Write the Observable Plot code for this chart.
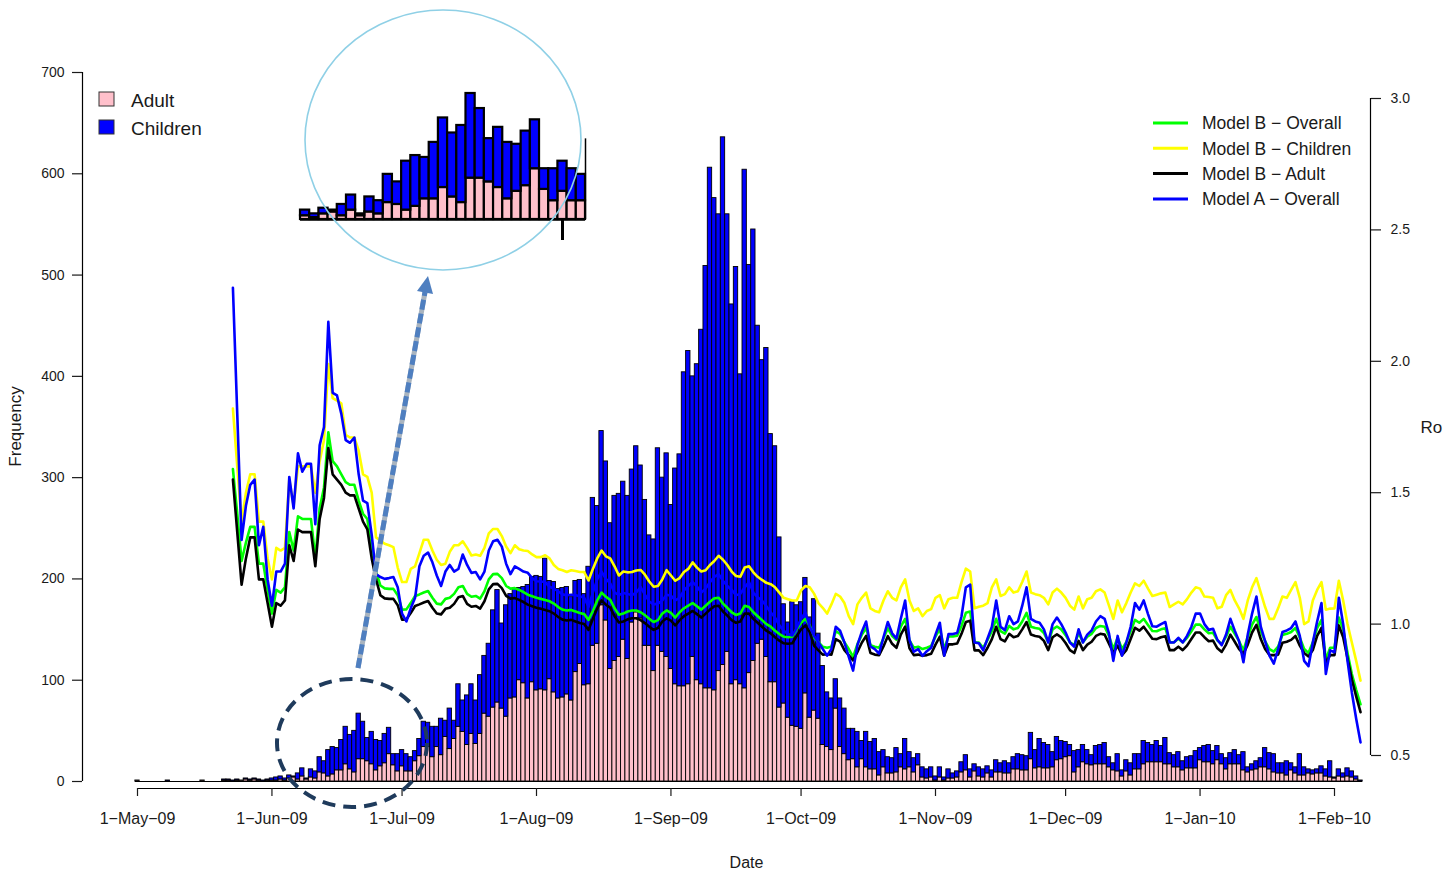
<!DOCTYPE html>
<html><head><meta charset="utf-8">
<script src="https://cdn.jsdelivr.net/npm/d3@7"></script>
<script src="https://cdn.jsdelivr.net/npm/@observablehq/plot@0.6"></script>
<style>
html,body{margin:0;padding:0;background:#fff;overflow:hidden;}
#wrap{position:relative;width:1455px;height:871px;overflow:hidden;background:#fff;}
#wrap > svg, #wrap > div{position:absolute;}
</style></head><body><div id="wrap"></div>
<script>
// ---------------- DATA (day index 0 = 1-May-2009) ----------------
const adult = [
1,0,0,0,0,0,0,0,0,0,
0,0,0,0,0,1,0,0,0,0,
1,1,0,1,1,2,1,2,1,0,
1,1,1,2,1,3,4,2,5,2,
4,3,9,8,5,7,11,11,17,12,
9,22,22,20,17,11,15,18,27,16,
10,15,10,10,20,25,34,34,24,34,
26,44,32,42,54,49,36,47,37,47,
67,64,73,78,72,64,82,83,100,97,
82,98,90,91,90,101,88,82,83,86,
80,108,116,95,96,134,136,174,159,111,
119,123,140,121,157,167,161,134,134,109,
134,128,123,111,96,94,94,96,123,100,
96,92,92,90,109,115,128,96,100,96,
92,107,119,136,140,123,98,98,73,77,
63,55,54,52,87,63,70,62,36,34,
31,72,34,27,21,22,14,22,14,12,
12,6,14,8,8,9,14,12,14,9,
16,4,3,4,1,4,1,3,3,4,
9,11,4,10,5,4,8,4,9,9,
8,8,12,12,11,11,22,13,14,13,
13,14,21,22,24,25,9,14,19,17,
16,17,17,17,14,11,10,5,10,6,
12,12,17,19,19,19,19,17,17,14,
14,11,13,13,13,21,19,19,17,21,
17,12,17,17,17,11,9,11,12,14,
14,12,9,8,8,6,11,8,6,6,
8,7,8,8,5,4,3,5,4,5,
4,2,0];
const children = [
0,0,0,0,0,0,0,1,0,0,
0,0,0,0,0,0,0,0,0,0,
1,1,1,1,0,1,1,1,1,1,
1,2,3,3,2,3,1,6,8,1,
8,7,15,12,26,27,22,30,37,34,
41,45,37,23,32,30,25,29,26,11,
17,16,17,14,10,17,25,24,30,20,
36,16,40,18,42,31,49,49,43,58,
57,72,96,111,84,110,103,107,91,95,
112,104,113,111,130,97,109,108,108,106,
102,90,83,90,116,146,136,172,157,144,
163,161,156,161,151,164,151,144,109,130,
195,172,201,162,213,229,310,329,277,312,
350,417,514,486,451,521,432,375,408,306,
512,403,426,314,276,305,245,233,168,98,
94,122,120,125,114,99,110,84,78,54,
51,29,48,45,31,30,35,18,35,27,
30,23,17,16,15,24,13,30,15,14,
11,10,9,10,4,10,3,9,5,6,
10,15,8,7,9,8,7,7,12,9,
12,10,12,15,15,14,26,18,28,25,
23,15,23,18,15,11,21,17,17,14,
10,18,19,21,10,7,17,6,11,12,
15,15,23,19,17,21,16,26,11,12,
15,9,11,12,17,12,16,17,13,14,
10,11,11,14,9,18,5,6,8,9,
19,16,18,10,10,14,7,6,21,8,
4,4,4,7,7,16,1,7,4,8,
6,3,1];

const lineFirstDay = 22;
const modelBOverall = [
1.59,1.42,1.24,1.31,1.37,1.37,1.23,1.23,1.13,1.04,
1.13,1.12,1.14,1.35,1.28,1.41,1.40,1.40,1.40,1.25,
1.44,1.52,1.73,1.62,1.60,1.57,1.54,1.53,1.53,1.47,
1.42,1.40,1.28,1.20,1.147,1.136,1.134,1.134,1.11,1.055,
1.056,1.08,1.107,1.113,1.12,1.126,1.10,1.078,1.075,1.096,
1.10,1.115,1.14,1.145,1.115,1.104,1.107,1.097,1.125,1.17,
1.19,1.191,1.175,1.145,1.135,1.137,1.13,1.122,1.112,1.106,
1.10,1.096,1.092,1.087,1.078,1.065,1.055,1.052,1.054,1.048,
1.042,1.038,1.016,1.05,1.09,1.12,1.104,1.092,1.06,1.036,
1.04,1.048,1.052,1.052,1.045,1.034,1.02,1.008,1.015,1.04,
1.052,1.043,1.025,1.045,1.06,1.07,1.08,1.068,1.055,1.07,
1.085,1.098,1.10,1.078,1.062,1.045,1.035,1.04,1.07,1.065,
1.045,1.03,1.015,1.00,0.99,0.975,0.962,0.952,0.95,0.952,
0.98,1.005,1.02,0.995,0.948,0.931,0.914,0.91,0.914,0.973,
0.963,0.931,0.905,0.875,0.924,0.959,0.985,0.92,0.914,0.91,
0.945,0.984,0.955,0.94,0.99,1.02,0.938,0.91,0.914,0.905,
0.91,0.917,0.952,0.982,0.905,0.953,0.953,0.956,0.993,1.043,
1.048,0.931,0.93,0.91,0.94,0.973,1.02,0.973,0.964,0.993,
0.98,0.985,1.01,1.043,0.99,0.985,0.982,0.966,0.931,0.98,
0.991,0.98,0.958,0.931,0.92,0.966,0.931,0.952,0.963,0.985,
0.993,0.99,0.955,0.905,0.948,0.905,0.931,0.973,1.016,1.005,
1.02,0.997,0.974,0.973,0.98,0.984,0.931,0.931,0.944,0.931,
0.948,0.973,0.998,0.998,0.98,0.965,0.967,0.938,0.924,0.952,
0.99,0.963,0.935,0.90,0.952,0.998,1.027,0.973,0.935,0.905,
0.895,0.914,0.959,0.963,0.97,0.985,0.948,0.905,0.89,0.931,
0.985,1.016,0.865,0.91,0.91,1.025,0.98,0.89,0.81,0.75,
0.695];
const modelBChildren = [
1.82,1.60,1.39,1.50,1.57,1.57,1.39,1.39,1.25,1.17,
1.29,1.28,1.29,1.55,1.45,1.60,1.60,1.60,1.60,1.50,
1.62,1.70,1.99,1.86,1.85,1.84,1.72,1.71,1.71,1.66,
1.57,1.56,1.50,1.33,1.318,1.306,1.30,1.293,1.215,1.16,
1.16,1.21,1.22,1.27,1.321,1.321,1.28,1.245,1.225,1.23,
1.275,1.30,1.30,1.315,1.29,1.261,1.265,1.26,1.29,1.345,
1.362,1.362,1.335,1.295,1.27,1.30,1.285,1.28,1.278,1.265,
1.255,1.255,1.262,1.25,1.225,1.21,1.205,1.198,1.205,1.202,
1.198,1.198,1.166,1.21,1.25,1.28,1.258,1.25,1.22,1.185,
1.20,1.197,1.198,1.204,1.206,1.188,1.162,1.142,1.145,1.17,
1.205,1.185,1.165,1.175,1.198,1.21,1.235,1.215,1.20,1.205,
1.225,1.24,1.26,1.245,1.225,1.20,1.183,1.18,1.215,1.22,
1.197,1.18,1.168,1.157,1.152,1.14,1.12,1.10,1.095,1.09,
1.09,1.128,1.145,1.14,1.116,1.08,1.062,1.04,1.075,1.115,
1.105,1.08,1.03,1.00,1.075,1.10,1.12,1.06,1.05,1.045,
1.09,1.125,1.10,1.09,1.14,1.17,1.09,1.05,1.06,1.03,
1.05,1.057,1.10,1.11,1.06,1.095,1.10,1.10,1.16,1.211,
1.20,1.06,1.066,1.07,1.08,1.14,1.17,1.107,1.114,1.14,
1.12,1.125,1.16,1.20,1.12,1.114,1.11,1.10,1.075,1.12,
1.135,1.12,1.10,1.07,1.055,1.105,1.06,1.095,1.10,1.125,
1.132,1.12,1.07,1.02,1.09,1.045,1.08,1.12,1.155,1.145,
1.165,1.135,1.107,1.112,1.117,1.12,1.065,1.075,1.085,1.075,
1.095,1.12,1.14,1.135,1.105,1.103,1.10,1.06,1.066,1.11,
1.13,1.09,1.06,1.02,1.09,1.14,1.175,1.12,1.065,1.02,
1.02,1.06,1.105,1.10,1.13,1.16,1.10,1.00,1.01,1.09,
1.13,1.16,1.055,1.059,1.06,1.165,1.09,1.00,0.93,0.86,
0.785];
const modelBAdult = [
1.55,1.35,1.15,1.25,1.33,1.33,1.17,1.17,1.08,0.99,
1.08,1.07,1.09,1.30,1.24,1.36,1.35,1.35,1.35,1.22,
1.40,1.48,1.67,1.57,1.55,1.53,1.50,1.49,1.49,1.44,
1.39,1.36,1.25,1.17,1.11,1.098,1.096,1.096,1.072,1.017,
1.018,1.042,1.069,1.075,1.082,1.088,1.062,1.04,1.037,1.058,
1.062,1.077,1.102,1.107,1.077,1.066,1.069,1.059,1.087,1.132,
1.152,1.153,1.137,1.107,1.097,1.099,1.092,1.084,1.074,1.068,
1.062,1.058,1.054,1.049,1.04,1.027,1.017,1.014,1.016,1.01,
1.004,1.0,0.978,1.02,1.06,1.09,1.074,1.062,1.03,1.006,
1.01,1.018,1.022,1.022,1.015,1.004,0.99,0.978,0.985,1.01,
1.022,1.013,0.995,1.015,1.03,1.04,1.05,1.038,1.025,1.04,
1.055,1.068,1.07,1.048,1.032,1.015,1.005,1.01,1.04,1.04,
1.02,1.005,0.99,0.975,0.965,0.95,0.937,0.927,0.925,0.927,
0.955,0.98,0.995,0.97,0.918,0.90,0.884,0.885,0.884,0.943,
0.933,0.901,0.882,0.862,0.894,0.929,0.955,0.89,0.884,0.882,
0.915,0.954,0.925,0.91,0.96,0.99,0.908,0.882,0.884,0.88,
0.882,0.887,0.922,0.952,0.88,0.923,0.923,0.926,0.963,1.008,
1.013,0.90,0.90,0.882,0.91,0.943,0.99,0.943,0.934,0.963,
0.95,0.955,0.98,1.008,0.96,0.955,0.952,0.936,0.901,0.95,
0.961,0.95,0.928,0.901,0.89,0.936,0.901,0.922,0.933,0.955,
0.963,0.96,0.925,0.89,0.918,0.882,0.901,0.943,0.986,0.975,
0.99,0.967,0.944,0.943,0.95,0.954,0.901,0.901,0.914,0.901,
0.918,0.943,0.968,0.968,0.95,0.935,0.937,0.908,0.894,0.922,
0.96,0.933,0.905,0.887,0.922,0.968,0.997,0.943,0.905,0.882,
0.882,0.884,0.929,0.933,0.94,0.955,0.918,0.89,0.877,0.901,
0.955,0.986,0.852,0.882,0.882,0.995,0.95,0.87,0.79,0.725,
0.665];
const modelAOverall = [
2.28,1.80,1.32,1.45,1.53,1.55,1.30,1.37,1.17,1.07,
1.20,1.20,1.23,1.56,1.44,1.65,1.58,1.61,1.61,1.38,
1.68,1.75,2.15,1.88,1.87,1.80,1.70,1.69,1.71,1.57,
1.47,1.46,1.34,1.19,1.179,1.172,1.175,1.179,1.14,1.04,
1.01,1.06,1.10,1.22,1.26,1.272,1.235,1.185,1.145,1.20,
1.225,1.20,1.21,1.265,1.225,1.195,1.198,1.17,1.20,1.28,
1.315,1.321,1.295,1.23,1.19,1.22,1.21,1.20,1.195,1.175,
1.163,1.162,1.16,1.142,1.135,1.125,1.113,1.11,1.112,1.11,
1.106,1.10,1.066,1.12,1.17,1.20,1.172,1.155,1.12,1.111,
1.118,1.115,1.11,1.12,1.141,1.112,1.086,1.075,1.078,1.09,
1.112,1.108,1.09,1.10,1.128,1.145,1.16,1.143,1.12,1.135,
1.16,1.18,1.19,1.165,1.145,1.13,1.11,1.115,1.14,1.16,
1.12,1.102,1.09,1.068,1.045,1.025,0.995,0.975,0.962,0.957,
0.985,1.02,1.045,0.99,0.955,0.93,0.905,0.88,0.905,0.99,
0.975,0.93,0.875,0.823,0.92,0.97,1.01,0.915,0.905,0.888,
0.95,1.008,0.965,0.945,1.02,1.09,0.94,0.895,0.905,0.879,
0.897,0.91,0.96,1.005,0.88,0.962,0.962,0.966,1.03,1.14,
1.15,0.93,0.927,0.90,0.945,0.99,1.09,0.99,0.977,1.03,
1.00,1.01,1.07,1.14,1.02,1.01,1.005,0.98,0.93,1.00,
1.025,1.00,0.968,0.93,0.914,0.98,0.93,0.96,0.976,1.01,
1.03,1.02,0.965,0.86,0.955,0.88,0.93,0.99,1.08,1.055,
1.09,1.038,0.992,0.99,1.00,1.008,0.93,0.93,0.948,0.93,
0.955,0.99,1.04,1.04,1.00,0.978,0.982,0.94,0.92,0.96,
1.02,0.975,0.935,0.855,0.96,1.04,1.105,0.99,0.935,0.88,
0.85,0.905,0.97,0.976,0.985,1.01,0.955,0.86,0.84,0.93,
1.01,1.08,0.81,0.90,0.893,1.10,1.00,0.86,0.74,0.64,
0.55];

const tickDays = [0, 31, 61, 92, 123, 153, 184, 214, 245, 276];
const tickLabels = ["1\u2212May\u221209","1\u2212Jun\u221209","1\u2212Jul\u221209","1\u2212Aug\u221209","1\u2212Sep\u221209","1\u2212Oct\u221209","1\u2212Nov\u221209","1\u2212Dec\u221209","1\u2212Jan\u221210","1\u2212Feb\u221210"];
const freqTicks = [0, 100, 200, 300, 400, 500, 600, 700];
const roTicks = [0.5, 1.0, 1.5, 2.0, 2.5, 3.0];
const barNames = ["Adult", "Children"];
const seriesNames = ["Model B \u2212 Overall", "Model B \u2212 Children", "Model B \u2212 Adult", "Model A \u2212 Overall"];
const insetFirstDay = 33, insetLastDay = 63, insetTickDay = 61;

// ---------------- LAYOUT ----------------
const W = 1455, H = 871;
const P = {day0: 137, dayLast: 1334, left: 82, right: 1370, y0: 781, yTop: 72, bottom: 788, ro05: 755, ro30: 98};
const pxPerDay = (P.dayLast - P.day0) / tickDays[tickDays.length - 1];
const xDomain = [(P.left - P.day0) / pxPerDay, (P.right - P.day0) / pxPerDay];
const pxPerFreq = (P.y0 - P.yTop) / 700;
const yDomain = [-(P.bottom - P.y0) / pxPerFreq, 700];
const f05 = (P.y0 - P.ro05) / pxPerFreq, f30 = (P.y0 - P.ro30) / pxPerFreq;
const roToFreq = r => f05 + (r - 0.5) * (f30 - f05) / 2.5;
const freqToRo = f => 0.5 + (f - f05) * 2.5 / (f30 - f05);

const PINK = "#ffc0cb", BLUE = "#0000ff";
const lineColors = ["#00ff00", "#ffff00", "#000000", "#0000ff"];
const FONT = "'Liberation Sans', Arial, Helvetica, sans-serif";

const bars = adult.map((a, d) => ({day: d, adult: a, children: children[d]}));
const seriesValues = [modelBOverall, modelBChildren, modelBAdult, modelAOverall];
const lineMarks = seriesValues.map((vals, k) =>
  Plot.line(vals.map((v, i) => ({day: lineFirstDay + i, ro: v})),
    {x: "day", y: d => roToFreq(d.ro), stroke: lineColors[k], strokeWidth: 2.6, strokeLinejoin: "round"}));

const main = Plot.plot({
  width: W, height: H,
  marginLeft: P.left, marginRight: W - P.right, marginTop: P.yTop, marginBottom: H - P.bottom,
  x: {domain: xDomain, axis: null},
  y: {domain: yDomain, axis: null},
  style: {fontFamily: FONT, background: "white", color: "#1a1a1a"},
  marks: [
    Plot.rect(bars, {x1: d => d.day - 0.5, x2: d => d.day + 0.5, y1: 0, y2: "adult", fill: PINK, stroke: "black", strokeWidth: 0.9}),
    Plot.rect(bars.filter(d => d.children > 0), {x1: d => d.day - 0.5, x2: d => d.day + 0.5, y1: "adult", y2: d => d.adult + d.children, fill: BLUE, stroke: "black", strokeWidth: 0.9}),
    Plot.ruleY([0], {x1: -0.5, x2: adult.length - 0.5, stroke: "black", strokeWidth: 1}),
    ...lineMarks,
    Plot.ruleX([xDomain[0]], {y1: freqTicks[0], y2: freqTicks[freqTicks.length - 1], stroke: "black", strokeWidth: 1.2}),
    Plot.axisY(freqTicks, {anchor: "left", tickSize: 10, tickPadding: 8, fontSize: 14, label: null, strokeWidth: 1.2}),
    Plot.ruleX([xDomain[1]], {y1: roToFreq(roTicks[0]), y2: roToFreq(roTicks[roTicks.length - 1]), stroke: "black", strokeWidth: 1.2}),
    Plot.axisY(roTicks.map(roToFreq), {anchor: "right", tickSize: 10, tickPadding: 10, fontSize: 14, label: null, strokeWidth: 1.2, tickFormat: f => freqToRo(f).toFixed(1)}),
    Plot.ruleY([yDomain[0]], {x1: tickDays[0], x2: tickDays[tickDays.length - 1], stroke: "black", strokeWidth: 1.2}),
    Plot.axisX(tickDays, {anchor: "bottom", tickSize: 8, tickPadding: 16, fontSize: 16, label: null, strokeWidth: 1.2, tickFormat: d => tickLabels[tickDays.indexOf(d)]}),
    Plot.text(["Frequency"], {frameAnchor: "left", dx: -67, dy: -4, rotate: -90, textAnchor: "middle", fontSize: 17, fill: "#1a1a1a"}),
    Plot.text(["Date"], {frameAnchor: "bottom", dx: 20, dy: 79, fontSize: 16, fill: "#1a1a1a"}),
    Plot.text(["Ro"], {frameAnchor: "right", dx: 50, dy: -3, fontSize: 17, textAnchor: "start", fill: "#1a1a1a"})
  ]
});
main.style.left = "0px"; main.style.top = "0px";
document.getElementById("wrap").appendChild(main);

// ---------------- INSET (magnified June bars) ----------------
const insetBars = bars.filter(d => d.day >= insetFirstDay && d.day <= insetLastDay);
const insetMax = d3.max(insetBars, d => d.adult + d.children);
const inset = Plot.plot({
  width: 300, height: 170, marginLeft: 5, marginRight: 10, marginTop: 13, marginBottom: 31,
  x: {domain: [insetFirstDay - 0.5, insetLastDay + 0.5], axis: null},
  y: {domain: [0, insetMax], axis: null},
  style: {background: "transparent", overflow: "visible"},
  marks: [
    Plot.rect(insetBars, {x1: d => d.day - 0.5, x2: d => d.day + 0.5, y1: 0, y2: "adult", fill: PINK, stroke: "black", strokeWidth: 2.2}),
    Plot.rect(insetBars.filter(d => d.children > 0), {x1: d => d.day - 0.5, x2: d => d.day + 0.5, y1: "adult", y2: d => d.adult + d.children, fill: BLUE, stroke: "black", strokeWidth: 2.2}),
    Plot.ruleY([0], {x1: insetFirstDay - 0.5, x2: insetLastDay + 0.5, stroke: "black", strokeWidth: 2.5}),
    Plot.ruleX([insetLastDay + 0.5], {y1: 0, y2: insetMax * 0.64, stroke: "black", strokeWidth: 1.5}),
    Plot.axisX([insetTickDay], {anchor: "bottom", tickSize: 21, tickFormat: () => "", strokeWidth: 3, label: null})
  ]
});
const insetBox = document.createElement("div");
insetBox.style.left = "295px"; insetBox.style.top = "80px";
insetBox.appendChild(inset);
document.getElementById("wrap").appendChild(insetBox);

// ---------------- OVERLAY: annotations & legends ----------------
const ov = d3.create("svg").attr("width", W).attr("height", H)
  .style("left", "0px").style("top", "0px").style("font-family", FONT);
ov.append("ellipse").attr("cx", 443).attr("cy", 140).attr("rx", 138).attr("ry", 130)
  .attr("fill", "none").attr("stroke", "#8fd0e6").attr("stroke-width", 1.6);
ov.append("ellipse").attr("cx", 352).attr("cy", 743).attr("rx", 75).attr("ry", 64)
  .attr("fill", "none").attr("stroke", "#1f3b5c").attr("stroke-width", 4).attr("stroke-dasharray", "13 8");
ov.append("line").attr("x1", 358).attr("y1", 668).attr("x2", 425).attr("y2", 292)
  .attr("stroke", "#a9b4bf").attr("stroke-width", 5);
ov.append("line").attr("x1", 358).attr("y1", 668).attr("x2", 425).attr("y2", 292)
  .attr("stroke", "#4f7fc0").attr("stroke-width", 5).attr("stroke-dasharray", "10 4");
ov.append("polygon").attr("points", "428,276 417,291 433,294").attr("fill", "#4f7fc0");

const barLegend = ov.append("g");
barNames.forEach((name, i) => {
  barLegend.append("rect").attr("x", 99).attr("y", 92 + i * 28).attr("width", 15).attr("height", 14)
    .attr("fill", i === 0 ? PINK : BLUE).attr("stroke", "#333").attr("stroke-width", 1);
  barLegend.append("text").attr("x", 131).attr("y", 100 + i * 28).attr("dy", "0.36em")
    .attr("font-size", 19).attr("fill", "#1a1a1a").text(name);
});
const lineLegend = ov.append("g");
seriesNames.forEach((name, i) => {
  const y = 123 + i * 25.3;
  lineLegend.append("line").attr("x1", 1153).attr("x2", 1188).attr("y1", y).attr("y2", y)
    .attr("stroke", lineColors[i]).attr("stroke-width", 3);
  lineLegend.append("text").attr("x", 1202).attr("y", y).attr("dy", "0.36em")
    .attr("font-size", 17.5).attr("fill", "#1a1a1a").text(name);
});
document.getElementById("wrap").appendChild(ov.node());
</script>
</body></html>
